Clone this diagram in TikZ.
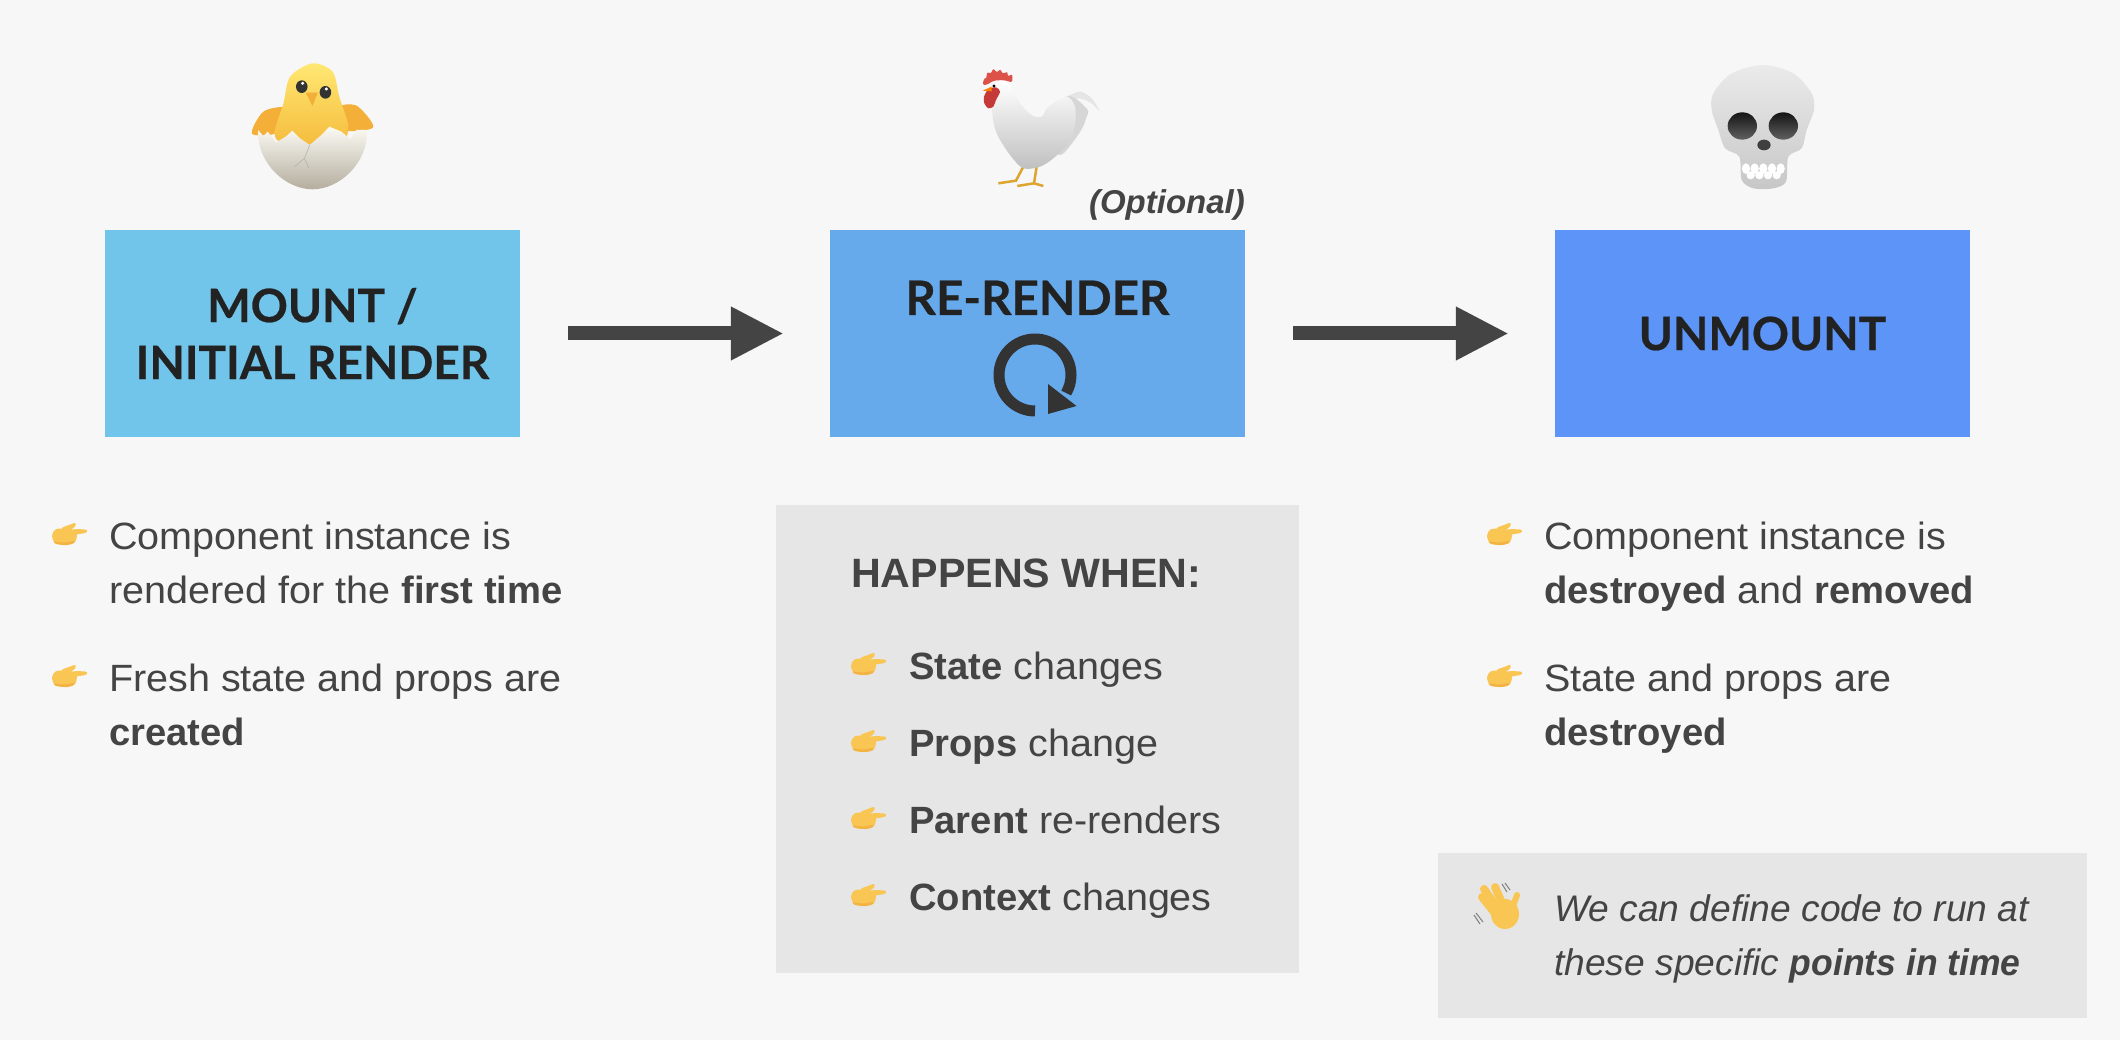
\documentclass[tikz,border=0pt]{standalone}
\usepackage{fontspec}
\usetikzlibrary{arrows.meta}
\setmainfont{Liberation Sans}[FakeStretch=1.04, BoldFeatures={FakeStretch=1.005}, ItalicFeatures={FakeStretch=1.005}, BoldItalicFeatures={FakeStretch=0.96}]
\newfontfamily\headfont{Lato}[BoldFeatures={FakeBold=0.5}]
\newfontfamily\optfont{Liberation Sans}
\definecolor{pagebg}{HTML}{F7F7F7}
\definecolor{mountblue}{HTML}{71C4EA}
\definecolor{renderblue}{HTML}{66AAEC}
\definecolor{unmountblue}{HTML}{5C94F8}
\definecolor{panelgrey}{HTML}{E6E6E6}
\definecolor{bodytext}{HTML}{444444}
\definecolor{headtext}{HTML}{222222}
\definecolor{handyellow}{HTML}{F9C654}
\definecolor{handshade}{HTML}{F2B342}
\definecolor{chicktop}{HTML}{FFE873}
\definecolor{chickdown}{HTML}{F5BC3D}
\definecolor{chickwing}{HTML}{F3AF38}
\definecolor{shelltop}{HTML}{FBFAF3}
\definecolor{shelldown}{HTML}{B5AE9F}
\definecolor{combred}{HTML}{DC5148}
\definecolor{wattlered}{HTML}{C53A38}
\definecolor{legyellow}{HTML}{DDA42E}
\tikzset{
	stagebox/.style={minimum width=415pt, minimum height=207pt, inner sep=0pt, text=headtext, align=center, font=\headfont\bfseries\fontsize{46}{57}\selectfont},
	panelbox/.style={fill=panelgrey, inner sep=0pt},
	bodyline/.style={anchor=base west, inner sep=0pt, text=bodytext, align=left, font=\fontsize{38}{54}\selectfont},
	flowarrow/.style={line width=14pt, draw=bodytext, -{Triangle[length=53pt, width=50pt]}, shorten <=48pt, shorten >=46pt},
	pointhand/.pic={
		\fill[handyellow] plot[smooth cycle] coordinates {(0,12.5) (3.5,6.5) (12,5.5) (22,7) (25,11) (23,19) (15,22) (3.5,20.5)};
		\fill[handyellow] plot[smooth cycle] coordinates {(10,5) (17,2) (23,0) (23,3.5) (15,9)};
		\fill[handyellow] plot[smooth cycle] coordinates {(21,6.5) (33,6.5) (35,8) (33,10) (21,11.5)};
		\fill[handshade] plot[smooth cycle] coordinates {(2,18.5) (12,19.5) (22,18) (21,20.5) (14,22) (4,20.8)};
	}
}
\begin{document}
\begin{tikzpicture}[x=1pt, y=-1pt]
	\useasboundingbox (0,0) rectangle (2120,1040);
	\fill[pagebg] (0,0) rectangle (2120,1040);

	% the three stages
	\node[stagebox, fill=mountblue] (mount) at (312.5,333.5) {MOUNT /\\INITIAL RENDER};
	\node[stagebox, fill=renderblue] (rerender) at (1037.5,333.5) {};
	\node[stagebox, fill=unmountblue] (unmount) at (1762.5,333.5) {UNMOUNT};
	\draw[flowarrow] (mount) -- (rerender);
	\draw[flowarrow] (rerender) -- (unmount);
	\node[anchor=base, inner sep=0pt, text=headtext, font=\headfont\bfseries\fontsize{47.5}{57}\selectfont] (renderlabel) at (1037.5,315) {RE-RENDER};
	\node[anchor=base east, inner sep=0pt, text=bodytext, font=\optfont\bfseries\itshape\fontsize{33}{36}\selectfont] (optional) at (1245,214) {(Optional)};

	% refresh sign
	\draw[line width=11pt, draw=black!80] (1035,411) arc[start angle=-90, end angle=-390, radius=36pt];
	\fill[black!80] (1048,384) -- (1076.5,406) -- (1048,414) -- cycle;

	% lists
	\node[bodyline] (firsttext) at (109,603) {Component instance is\\rendered for the \textbf{first time}};
	\node[bodyline] (freshtext) at (109,745) {Fresh state and props are\\\textbf{created}};
	\node[bodyline] (destroytext) at (1544,603) {Component instance is\\\textbf{destroyed} and \textbf{removed}};
	\node[bodyline] (statetext) at (1544,745) {State and props are\\\textbf{destroyed}};

	% happens when
	\node[panelbox, minimum width=523pt, minimum height=468pt] (whenpanel) at (1037.5,739) {};
	\node[bodyline, font=\bfseries\fontsize{41}{48}\selectfont] (whentitle) at (851,587) {HAPPENS WHEN:};
	\node[bodyline] (whenstate) at (909,679) {\textbf{State} changes};
	\node[bodyline] (whenprops) at (909,756) {\textbf{Props} change};
	\node[bodyline] (whenparent) at (909,833) {\textbf{Parent} re-renders};
	\node[bodyline] (whencontext) at (909,910) {\textbf{Context} changes};
	\foreach \x/\y in {52/523, 52/665, 1487/523, 1487/665, 851/653, 851/730, 851/807, 851/884}
		\pic at (\x,\y) {pointhand};

	% note
	\node[panelbox, minimum width=649pt, minimum height=165pt] (notepanel) at (1762.5,935.5) {};
	\node[bodyline, font=\itshape\fontsize{37}{54}\selectfont] (notetext) at (1554,975) {We can define code to run at\\these specific \textbf{points in time}};
	\draw[line width=8pt, line cap=round, handyellow] (1498,917) -- (1482,897);
	\draw[line width=8pt, line cap=round, handyellow] (1500,912) -- (1484,889);
	\draw[line width=8pt, line cap=round, handyellow] (1505,910) -- (1495,887);
	\draw[line width=6pt, line cap=round, handyellow] (1511,912) -- (1517,895);
	\fill[handyellow] (1505,914) ellipse[x radius=14pt, y radius=15pt];
	\draw[line width=1pt, gray] (1502,884) -- (1507,892) (1505,883) -- (1510,890);
	\draw[line width=1pt, gray] (1474,915) -- (1480,924) (1476,913) -- (1483,922);

	% chick
	\begin{scope}[shift={(0,30)}, x=0.4464pt, y=-0.3333pt]
		\fill[chickwing] plot[smooth cycle] coordinates {(640,235) (590,245) (565,312) (630,305)};
		\fill[chickwing] plot[smooth cycle] coordinates {(760,232) (800,228) (836,292) (770,300)};
		\shade[top color=chicktop, bottom color=chickdown] plot[smooth cycle] coordinates {(700,100) (745,125) (760,200) (780,290) (760,340) (640,340) (615,310) (635,220) (650,140)};
		\shade[top color=shelltop, middle color=shelltop, bottom color=shelldown] (578,300) -- (590,318) -- (600,305) -- (618,338) -- (640,320) -- (655,302) -- (672,325) -- (694,345) -- (720,315) -- (738,290) -- (765,305) -- (785,328) -- (798,300) -- (822,300) .. controls (825,400) and (760,478) .. (700,478) .. controls (640,478) and (575,400) .. (578,300) -- cycle;
		\draw[black!30, line width=0.6pt] (694,345) -- (682,385) -- (660,410) (682,385) -- (692,415);
		\fill[black!80] (676,170) ellipse[x radius=13, y radius=19] (729,187) ellipse[x radius=13, y radius=19];
		\fill[white] (678,160) ellipse[x radius=4, y radius=5] (731,177) ellipse[x radius=4, y radius=5];
		\fill[chickwing] (685,188) -- (712,188) -- (700,228) -- cycle;
	\end{scope}

	% rooster
	\begin{scope}[shift={(960,50)}, x=0.3333pt, y=-0.3333pt]
		\draw[line width=2.5pt, legyellow] (190,350) -- (168,392) -- (115,400) (230,350) -- (222,400) -- (172,408) (222,400) -- (250,408);
		\fill[black!10] plot[smooth] coordinates {(320,140) (360,125) (395,145) (418,183) (392,158) (355,145) (330,160)};
		\fill[black!16] plot[smooth cycle] coordinates {(320,140) (382,178) (378,205) (370,228) (345,268) (300,315) (260,260)};
		\shade[top color=white, bottom color=black!25] plot[smooth cycle] coordinates {(100,110) (120,93) (150,105) (180,160) (215,195) (245,200) (265,170) (320,140) (345,170) (345,225) (325,280) (280,325) (240,350) (190,355) (150,315) (110,250) (97,190)};
		\fill[combred, rounded corners=2pt] (68,105) -- (72,85) -- (78,88) -- (82,65) -- (92,72) -- (100,55) -- (110,68) -- (122,57) -- (127,72) -- (143,65) -- (143,80) -- (157,72) -- (157,97) -- (130,90) -- (100,92) -- (80,105) -- cycle;
		\fill[wattlered] plot[smooth cycle] coordinates {(72,140) (85,118) (108,112) (120,125) (108,150) (100,170) (85,175) (73,160)};
		\fill[orange] (68,122) -- (95,110) -- (95,124) -- cycle;
		\fill[black] (102,108) circle[radius=5pt/3];
	\end{scope}

	% skull
	\begin{scope}[shift={(1660,50)}, x=0.3333pt, y=-0.3333pt]
		\shade[top color=black!8, middle color=black!5, bottom color=black!22] plot[smooth cycle] coordinates {(310,45) (400,70) (455,130) (462,180) (440,240) (425,295) (385,320) (378,395) (340,415) (280,415) (245,390) (238,320) (195,295) (175,240) (155,180) (160,130) (215,70)};
		\foreach \ex in {247,370}
			\shade[top color=black!92, bottom color=black!62] (\ex,228) ellipse[x radius=44, y radius=41];
		\fill[black!75] (312,285) ellipse[x radius=20, y radius=16];
		\foreach \tx in {258,284,310,336,362}
			\fill[white] (\tx,356) ellipse[x radius=12.5, y radius=16];
		\foreach \tx in {272,298,324,350}
			\fill[white] (\tx,376) ellipse[x radius=12.5, y radius=12];
	\end{scope}
\end{tikzpicture}
\end{document}
